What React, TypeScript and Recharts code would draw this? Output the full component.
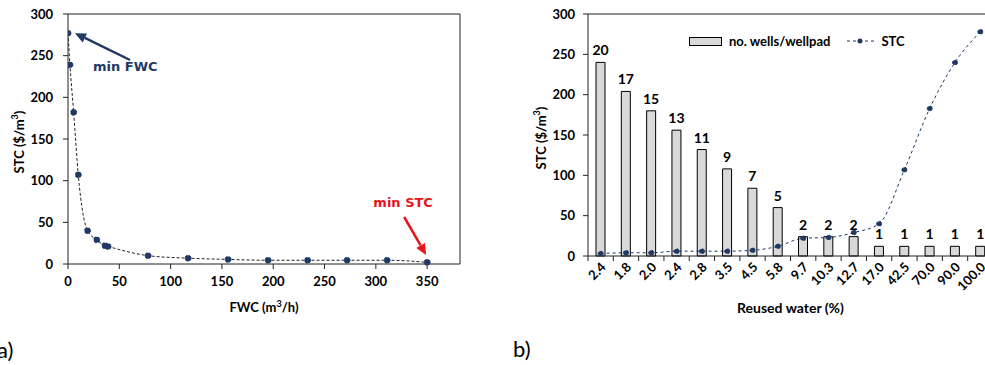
import React from 'react';
import {
  LineChart, Line, ComposedChart, Bar, XAxis, YAxis, ReferenceLine, ReferenceDot, LabelList, Legend,
} from 'recharts';

// (a) STC vs fresh water consumption
const fwc = [0, 1.9, 5.5, 10, 19, 28, 36, 39, 78, 117, 156, 195, 233.5, 272, 311, 350];
const stcA = [277, 239, 182, 107, 40, 29, 22, 21, 10, 7, 5.5, 4.5, 4.5, 4.5, 4.5, 2];
const xTicksA = [0, 50, 100, 150, 200, 250, 300, 350];
const yTicks = [0, 50, 100, 150, 200, 250, 300];

// (b) wells per wellpad and STC vs reused water
const reuseLabels = ['2.4', '1.8', '2.0', '2.4', '2.8', '3.5', '4.5', '5.8', '9.7', '10.3', '12.7', '17.0', '42.5', '70.0', '90.0', '100.0'];
const wells = [20, 17, 15, 13, 11, 9, 7, 5, 2, 2, 2, 1, 1, 1, 1, 1];
const stcB = [3, 4, 4, 6, 6, 6, 7, 12, 22, 23, 29, 40, 107, 183, 240, 278];

const dataA = fwc.map((x, i) => ({ fwc: x, stc: stcA[i] }));
const dataB = reuseLabels.map((r, i) => ({ i, reuse: r, wells: wells[i], stc: stcB[i] }));

const AXIS = '#222';
const NAVY = '#1f3864';
const tickFont = { fill: '#000', fontSize: 13, fontWeight: 700, fontFamily: 'Lato, sans-serif' };

const arrow = (color: string) => (p: any) => {
  const { x1, y1, x2, y2 } = p;
  const a = Math.atan2(y2 - y1, x2 - x1);
  const L = 11, W = 5;
  const bx = x2 - L * Math.cos(a), by = y2 - L * Math.sin(a);
  const px = -Math.sin(a) * W, py = Math.cos(a) * W;
  return (
    <g>
      <line x1={x1} y1={y1} x2={bx} y2={by} stroke={color} strokeWidth={2.5} />
      <polygon points={`${x2},${y2} ${bx + px},${by + py} ${bx - px},${by - py}`} fill={color} />
    </g>
  );
};

const note = (txt: string, color: string, anchor: 'start' | 'middle') => (p: any) => (
  <text x={p.cx} y={p.cy} dy={5} textAnchor={anchor} fill={color} fontSize={13} fontWeight={700}
    fontFamily="'DejaVu Sans', Verdana, sans-serif">{txt}</text>
);

const yTitle = (dx: number) => (p: any) => {
  const vb = p.viewBox;
  const cx = vb.x + dx;
  const cy = vb.y + vb.height / 2 + 3;
  return (
    <text x={cx} y={cy} transform={`rotate(-90, ${cx}, ${cy})`} textAnchor="middle" dominantBaseline="central"
      fontSize={13} fontWeight={700} fontFamily="Lato, sans-serif" fill="#000">
      STC ($/m<tspan dy={-5} fontSize={9}>3</tspan><tspan dy={5}>)</tspan>
    </text>
  );
};

const ReuseTick = (props: any) => {
  const { x, y, payload, width } = props;
  const band = (width || 405) / reuseLabels.length;
  const bx = x - band / 2;
  const tx = x + 6, ty = y + 12;
  return (
    <g>
      <line x1={bx} y1={y} x2={bx} y2={y + 5} stroke={AXIS} />
      <text x={tx} y={ty} transform={`rotate(-45, ${tx}, ${ty})`} textAnchor="end" {...tickFont}>
        {reuseLabels[payload.value]}
      </text>
    </g>
  );
};

const LegendB = () => (
  <div style={{ display: 'flex', alignItems: 'center', fontFamily: 'Lato, sans-serif', fontWeight: 700, fontSize: 13, color: '#000', whiteSpace: 'nowrap' }}>
    <span style={{ width: 31, height: 7, background: '#d9d9d9', border: '1px solid #000', display: 'inline-block' }} />
    <span style={{ marginLeft: 7 }}>no. wells/wellpad</span>
    <svg width={30} height={10} style={{ marginLeft: 16 }}>
      <line x1={1} y1={5} x2={28} y2={5} stroke={NAVY} strokeDasharray="3 3" />
      <circle cx={14} cy={5} r={2.5} fill={NAVY} />
    </svg>
    <span style={{ marginLeft: 5 }}>STC</span>
  </div>
);

export default function App() {
  return (
    <div style={{ position: 'absolute', left: 0, top: 0, width: 985, height: 365, overflow: 'hidden', background: '#fff' }}>
      <div style={{ position: 'absolute', left: 0, top: 0 }}>
        <LineChart width={470} height={316} data={dataA} margin={{ top: 14, right: 10, bottom: 0, left: 0 }}>
          <XAxis dataKey="fwc" type="number" domain={[0, 382]} ticks={xTicksA} allowDataOverflow
            stroke={AXIS} tickSize={5} tickMargin={8} height={52} tick={tickFont}
            label={{
              content: (p: any) => (
                <text x={p.viewBox.x + p.viewBox.width / 2} y={p.viewBox.y + 48} textAnchor="middle"
                  fontSize={13} fontWeight={700} fontFamily="Lato, sans-serif" fill="#000">
                  FWC (m<tspan dy={-5} fontSize={9}>3</tspan><tspan dy={5}>/h)</tspan>
                </text>
              ),
            }} />
          <YAxis type="number" domain={[0, 300]} ticks={yTicks} stroke={AXIS} tickSize={5} tickMargin={10}
            width={68} tick={tickFont} label={{ content: yTitle(19) }} />
          <ReferenceLine y={300} stroke={AXIS} />
          <ReferenceLine x={382} stroke={AXIS} />
          <Line dataKey="stc" type="monotone" stroke="#222" strokeWidth={1} strokeDasharray="3 2"
            dot={{ r: 3, fill: NAVY, stroke: NAVY }} isAnimationActive={false} />
          <ReferenceLine segment={[{ x: 60.4, y: 244.8 }, { x: 6.8, y: 277 }]} shape={arrow(NAVY)} ifOverflow="visible" />
          <ReferenceDot x={24.4} y={237.6} shape={note('min FWC', NAVY, 'start')} ifOverflow="visible" />
          <ReferenceLine segment={[{ x: 327.6, y: 56.4 }, { x: 349, y: 10.8 }]} shape={arrow('#e8141b')} ifOverflow="visible" />
          <ReferenceDot x={326.6} y={74.4} shape={note('min STC', '#e8141b', 'middle')} ifOverflow="visible" />
        </LineChart>
      </div>

      <div style={{ position: 'absolute', left: 500, top: 0 }}>
        <ComposedChart width={500} height={330} data={dataB} margin={{ top: 14, right: 7, bottom: 0, left: 0 }}>
          <XAxis dataKey="i" type="category" stroke={AXIS} tickLine={false} tickSize={0} tickMargin={0}
            height={74} tick={<ReuseTick />} interval={0}
            label={{
              content: (p: any) => (
                <text x={p.viewBox.x + p.viewBox.width / 2} y={p.viewBox.y + 57} textAnchor="middle"
                  fontSize={14} fontWeight={700} fontFamily="Lato, sans-serif" fill="#000">Reused water (%)</text>
              ),
            }} />
          <YAxis yAxisId="stc" type="number" domain={[0, 300]} ticks={yTicks} stroke={AXIS} tickSize={5}
            tickMargin={8} width={88} tick={tickFont} label={{ content: yTitle(41) }} />
          <YAxis yAxisId="wells" orientation="right" type="number" domain={[0, 25]} hide />
          <ReferenceLine yAxisId="stc" y={300} stroke={AXIS} />
          <Legend layout="horizontal" verticalAlign="middle" align="center" content={<LegendB />}
            wrapperStyle={{ top: 33, left: 189, width: 'auto' }} />
          <Bar yAxisId="wells" dataKey="wells" name="no. wells/wellpad" barSize={9} fill="#d9d9d9" stroke="#000"
            strokeWidth={1} isAnimationActive={false}>
            <LabelList dataKey="wells" position="top" offset={7} fill="#000" fontSize={14} fontWeight={700}
              fontFamily="Lato, sans-serif" />
          </Bar>
          <Line yAxisId="stc" dataKey="stc" name="STC" type="monotone" stroke={NAVY} strokeWidth={1}
            strokeDasharray="3 3" dot={{ r: 2.5, fill: NAVY, stroke: NAVY }} isAnimationActive={false} />
        </ComposedChart>
      </div>

      <svg width={985} height={365} style={{ position: 'absolute', left: 0, top: 0, pointerEvents: 'none' }}>
        <text x={-3} y={358} fontSize={22} fontFamily="Lato, sans-serif" fill="#000">a)</text>
        <text x={513} y={357} fontSize={22} fontFamily="Lato, sans-serif" fill="#000">b)</text>
      </svg>
    </div>
  );
}
